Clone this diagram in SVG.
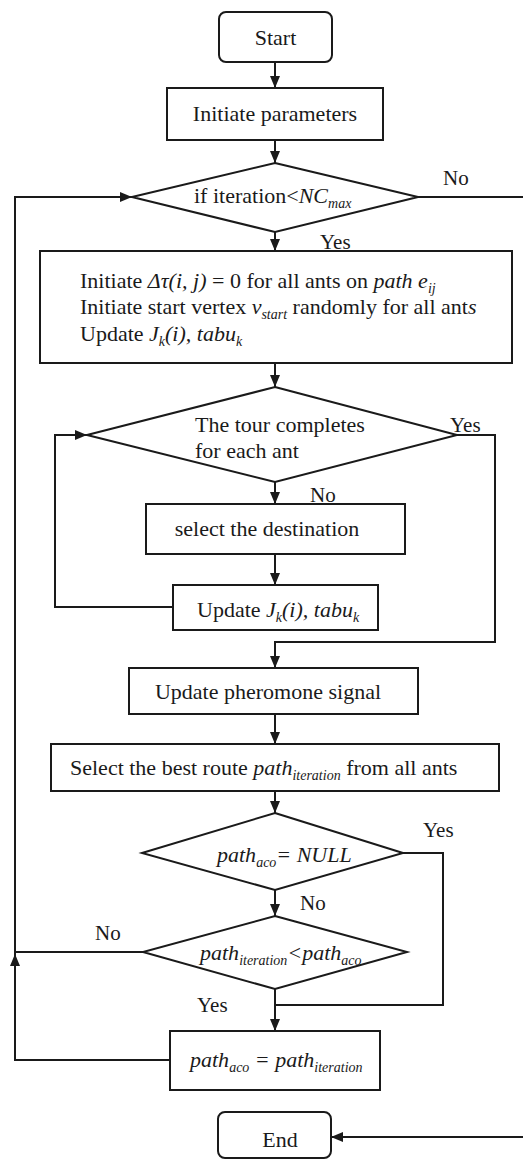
<svg xmlns="http://www.w3.org/2000/svg" width="523" height="1160" viewBox="0 0 523 1160">
  <style>
    .box { fill: #ffffff; stroke: #1a1a1a; stroke-width: 2; }
    .conn { fill: none; stroke: #1a1a1a; stroke-width: 2; }
    text { font-family: "Liberation Serif", "Times New Roman", serif; font-size: 22px; fill: #1a1a1a; }
    .it { font-style: italic; }
    .sub { font-size: 14px; font-style: italic; }
    .lbl { font-size: 21px; }
  </style>
  <defs>
    <marker id="arrow" viewBox="0 0 12 12" refX="12" refY="6" markerWidth="12" markerHeight="12" markerUnits="userSpaceOnUse" orient="auto">
      <path d="M0,1 L12,6 L0,11 Z" fill="#1a1a1a"/>
    </marker>
  </defs>

  <rect width="523" height="1160" fill="#ffffff"/>

  <!-- connectors -->
  <g id="connectors">
    <path class="conn" d="M275,62 V88" marker-end="url(#arrow)"/>
    <path class="conn" d="M275,140 V163" marker-end="url(#arrow)"/>
    <path class="conn" d="M275,232 V251" marker-end="url(#arrow)"/>
    <path class="conn" d="M418,197 H523"/>
    <path class="conn" d="M275,363 V387" marker-end="url(#arrow)"/>
    <path class="conn" d="M275,482 V504" marker-end="url(#arrow)"/>
    <path class="conn" d="M275,554 V585" marker-end="url(#arrow)"/>
    <path class="conn" d="M173,607 H55 V435 H87" marker-end="url(#arrow)"/>
    <path class="conn" d="M457,435 H495 V642 H275 V668" marker-end="url(#arrow)"/>
    <path class="conn" d="M275,714 V744" marker-end="url(#arrow)"/>
    <path class="conn" d="M275,791 V813" marker-end="url(#arrow)"/>
    <path class="conn" d="M275,890 V916" marker-end="url(#arrow)"/>
    <path class="conn" d="M403,853 H443 V1005 H275"/>
    <path class="conn" d="M275,989 V1031" marker-end="url(#arrow)"/>
    <path class="conn" d="M143,952 H15"/>
    <path class="conn" d="M170,1060 H15 V954" marker-end="url(#arrow)"/>
    <path class="conn" d="M15,954 V197 H132" marker-end="url(#arrow)"/>
    <path class="conn" d="M523,1137 H331" marker-end="url(#arrow)"/>
  </g>

  <!-- branch labels -->
  <g id="labels">
    <text class="lbl" x="443" y="185">No</text>
    <text class="lbl" x="320" y="249">Yes</text>
    <text class="lbl" x="450" y="432">Yes</text>
    <text class="lbl" x="310" y="502">No</text>
    <text class="lbl" x="423" y="837">Yes</text>
    <text class="lbl" x="300" y="910">No</text>
    <text class="lbl" x="95" y="940">No</text>
    <text class="lbl" x="197" y="1012">Yes</text>
  </g>

  <g id="start">
    <rect class="box" x="219" y="12" width="113" height="50" rx="7"/>
    <text x="275.5" y="45" text-anchor="middle">Start</text>
  </g>

  <g id="init-params">
    <rect class="box" x="167" y="88" width="216" height="52"/>
    <text x="275" y="121" text-anchor="middle">Initiate parameters</text>
  </g>

  <g id="check-iteration">
    <polygon class="box" points="275,163 418,197 275,232 132,197"/>
    <text x="194" y="203">if iteration&lt;<tspan class="it">NC</tspan><tspan class="sub" dy="5">max</tspan></text>
  </g>

  <g id="init-ants">
    <rect class="box" x="40" y="251" width="472" height="112"/>
    <text x="80" y="288">Initiate <tspan class="it">Δτ(i, j)</tspan> = 0 for all ants on <tspan class="it">path e</tspan><tspan class="sub" dy="5">ij</tspan></text>
    <text x="80" y="314">Initiate start vertex <tspan class="it">v</tspan><tspan class="sub" dy="5">start</tspan><tspan dy="-5"> randomly for all ant</tspan><tspan class="it">s</tspan></text>
    <text x="80" y="341">Update <tspan class="it">J</tspan><tspan class="sub" dy="5">k</tspan><tspan class="it" dy="-5">(i), tabu</tspan><tspan class="sub" dy="5">k</tspan></text>
  </g>

  <g id="tour-complete">
    <polygon class="box" points="275,387 457,435 275,482 87,435"/>
    <text x="195" y="432">The tour completes</text>
    <text x="195" y="458">for each ant</text>
  </g>

  <g id="select-destination">
    <rect class="box" x="146" y="504" width="259" height="50"/>
    <text x="267" y="536" text-anchor="middle">select the destination</text>
  </g>

  <g id="update-tabu">
    <rect class="box" x="173" y="585" width="205" height="45"/>
    <text x="197" y="617">Update <tspan class="it">J</tspan><tspan class="sub" dy="5">k</tspan><tspan class="it" dy="-5">(i), tabu</tspan><tspan class="sub" dy="5">k</tspan></text>
  </g>

  <g id="update-pheromone">
    <rect class="box" x="129" y="668" width="289" height="46"/>
    <text x="268" y="699" text-anchor="middle">Update pheromone signal</text>
  </g>

  <g id="select-best">
    <rect class="box" x="51" y="744" width="448" height="47"/>
    <text x="70" y="775">Select the best route <tspan class="it">path</tspan><tspan class="sub" dy="5">iteration</tspan><tspan dy="-5"> from all ants</tspan></text>
  </g>

  <g id="check-null">
    <polygon class="box" points="275,813 403,853 275,890 142,853"/>
    <text x="217" y="862"><tspan class="it">path</tspan><tspan class="sub" dy="5">aco</tspan><tspan class="it" dy="-5">= NULL</tspan></text>
  </g>

  <g id="check-better">
    <polygon class="box" points="275,916 407,952 275,989 143,952"/>
    <text x="200" y="960"><tspan class="it">path</tspan><tspan class="sub" dy="5">iteration</tspan><tspan class="it" dy="-5">&lt;path</tspan><tspan class="sub" dy="5">aco</tspan></text>
  </g>

  <g id="assign-best">
    <rect class="box" x="170" y="1031" width="210" height="59"/>
    <text x="190" y="1067"><tspan class="it">path</tspan><tspan class="sub" dy="5">aco</tspan><tspan class="it" dy="-5"> = path</tspan><tspan class="sub" dy="5">iteration</tspan></text>
  </g>

  <g id="end">
    <rect class="box" x="218" y="1112" width="113" height="46" rx="7"/>
    <text x="280" y="1147" text-anchor="middle">End</text>
  </g>
</svg>
